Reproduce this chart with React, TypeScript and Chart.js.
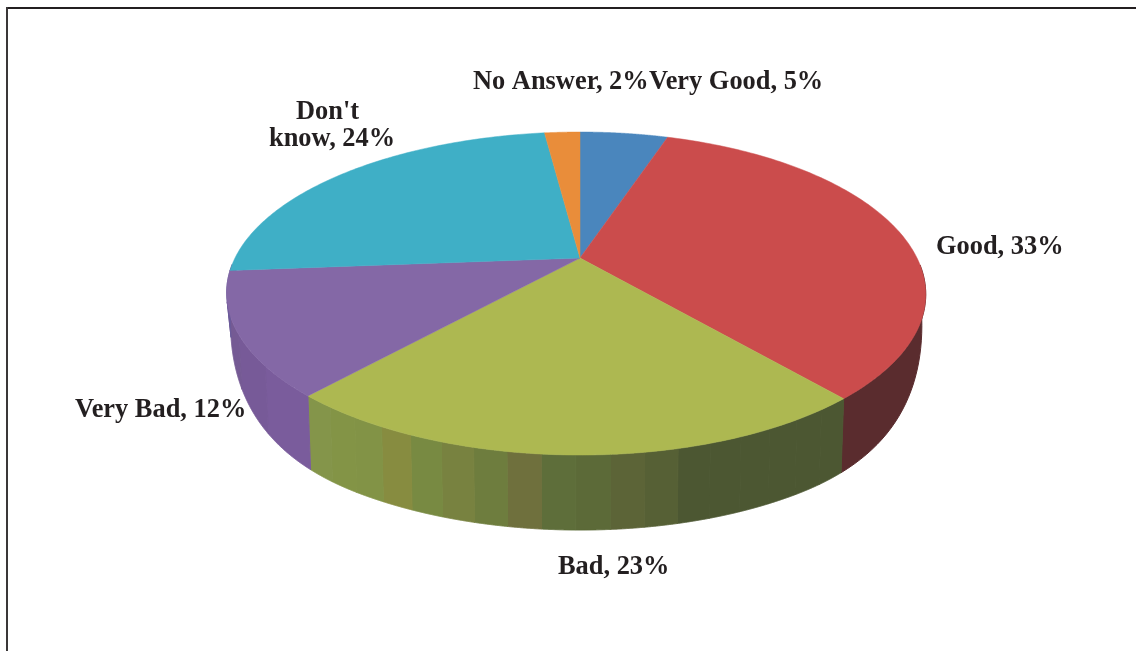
import React, { useEffect, useRef } from "react";
import { Chart, registerables } from "chart.js";

Chart.register(...registerables);

const categories = ["Very Good", "Good", "Bad", "Very Bad", "Don't know", "No Answer"];
const percentages = [5, 33.4, 22.5, 12.1, 24, 2];
const topColors = ["#4a86bd", "#cb4c4c", "#adb851", "#8468a6", "#3fafc6", "#e98d3a"];
const wallBands: string[][] = [
  ["#5a2c2e"],
  ["#5a2c2e"],
  ["#84954a", "#839446", "#829346", "#878c40", "#788a42", "#788240", "#6e7d3e", "#6f703d", "#5e6e3a", "#5c6a38", "#5c6437", "#566035", "#4c5732", "#4c5732", "#4c5732", "#4c5732", "#4c5732", "#4c5732"],
  ["#6a5a9a", "#755a94", "#775a98", "#7a5c9c"],
  ["#7a5c9c"],
  ["#7a5c9c"],
];
const labelLines = ["Very Good, 5%", "Good, 33%", "Bad, 23%", "Very Bad, 12%", "Don't", "know, 24%", "No Answer, 2%"];
const labelAnchors = [
  { x: 649, y: 89 },
  { x: 936, y: 254 },
  { x: 558, y: 574 },
  { x: 75, y: 417 },
  { x: 296, y: 119 },
  { x: 269, y: 146 },
  { x: 473, y: 89 },
];

const APEX_X = 580;
const APEX_Y = 258;
const PERSP = 0.22;
const SCALE_X = 341;
const SCALE_Y = 153.7;
const DEPTH = 75;

const project = (a: number) => {
  const u = Math.cos(a);
  const v = Math.sin(a);
  const d = 1 - PERSP * v;
  const drift = -4 * (1 - v * v);
  return { x: APEX_X + (SCALE_X * u) / d + drift, y: APEX_Y + (SCALE_Y * v) / d };
};
const projectBase = (a: number) => {
  const p = project(a);
  const u = Math.cos(a);
  const v = Math.sin(a);
  const t = Math.min(1, Math.max(0, v) / 0.85);
  return { x: p.x - 4 * u, y: p.y + DEPTH * Math.sin((Math.PI / 2) * t) };
};

const pie3d = {
  id: "pie3d",
  beforeDatasetsDraw(chart: any) {
    const ctx: CanvasRenderingContext2D = chart.ctx;
    const arcs = chart.getDatasetMeta(0).data;
    ctx.save();
    // side walls, one vertical band at a time; the far half of the rim has none
    arcs.forEach((arc: any, i: number) => {
      const { startAngle, endAngle } = arc.getProps(["startAngle", "endAngle"], true);
      const bands = wallBands[i];
      const n = bands.length;
      for (let k = 0; k < n; k++) {
        const a0 = startAngle + ((endAngle - startAngle) * k) / n;
        const a1 = startAngle + ((endAngle - startAngle) * (k + 1)) / n;
        const steps = 80;
        const angles: number[] = [];
        for (let s = 0; s <= steps; s++) {
          const a = a0 + ((a1 - a0) * s) / steps;
          if (Math.sin(a) > 0.03) angles.push(a);
        }
        if (angles.length < 2) continue;
        const color = bands[n - 1 - k];
        ctx.fillStyle = color;
        ctx.strokeStyle = color;
        ctx.lineWidth = 1;
        ctx.beginPath();
        angles.forEach((a, s) => {
          const t = project(a);
          if (s === 0) ctx.moveTo(t.x, t.y);
          else ctx.lineTo(t.x, t.y);
        });
        [...angles].reverse().forEach((a) => {
          const b = projectBase(a);
          ctx.lineTo(b.x, b.y);
        });
        ctx.closePath();
        ctx.fill();
        ctx.stroke();
      }
    });
    // top face
    arcs.forEach((arc: any, i: number) => {
      const { startAngle, endAngle } = arc.getProps(["startAngle", "endAngle"], true);
      ctx.fillStyle = topColors[i];
      ctx.strokeStyle = topColors[i];
      ctx.lineWidth = 0.5;
      ctx.beginPath();
      ctx.moveTo(APEX_X, APEX_Y);
      const steps = 120;
      for (let k = 0; k <= steps; k++) {
        const p = project(startAngle + ((endAngle - startAngle) * k) / steps);
        ctx.lineTo(p.x, p.y);
      }
      ctx.closePath();
      ctx.fill();
      ctx.stroke();
    });
    // labels
    ctx.fillStyle = "#231f20";
    ctx.font = 'bold 26.4px "Liberation Serif"';
    ctx.textBaseline = "alphabetic";
    ctx.textAlign = "left";
    labelLines.forEach((line, i) => ctx.fillText(line, labelAnchors[i].x, labelAnchors[i].y));
    ctx.restore();
    return false;
  },
};

export default function App() {
  const ref = useRef<HTMLCanvasElement>(null);
  useEffect(() => {
    document.body.style.margin = "0";
    document.body.style.overflow = "hidden";
    const chart = new Chart(ref.current!, {
      type: "pie",
      data: {
        labels: categories,
        datasets: [{ data: percentages, backgroundColor: topColors, borderWidth: 0 }],
      },
      options: {
        animation: false,
        responsive: false,
        plugins: { legend: { display: false }, tooltip: { enabled: false } },
      },
      plugins: [pie3d],
    } as any);
    return () => chart.destroy();
  }, []);
  return (
    <div style={{ position: "relative", width: 1136, height: 651, background: "#fff", overflow: "hidden" }}>
      <canvas ref={ref} width={1136} height={651} style={{ display: "block" }} />
      <div style={{ position: "absolute", left: 6, top: 7, right: 0, height: 2, background: "#231f20" }} />
      <div style={{ position: "absolute", left: 6, top: 7, bottom: 0, width: 2, background: "#3a3738" }} />
    </div>
  );
}
